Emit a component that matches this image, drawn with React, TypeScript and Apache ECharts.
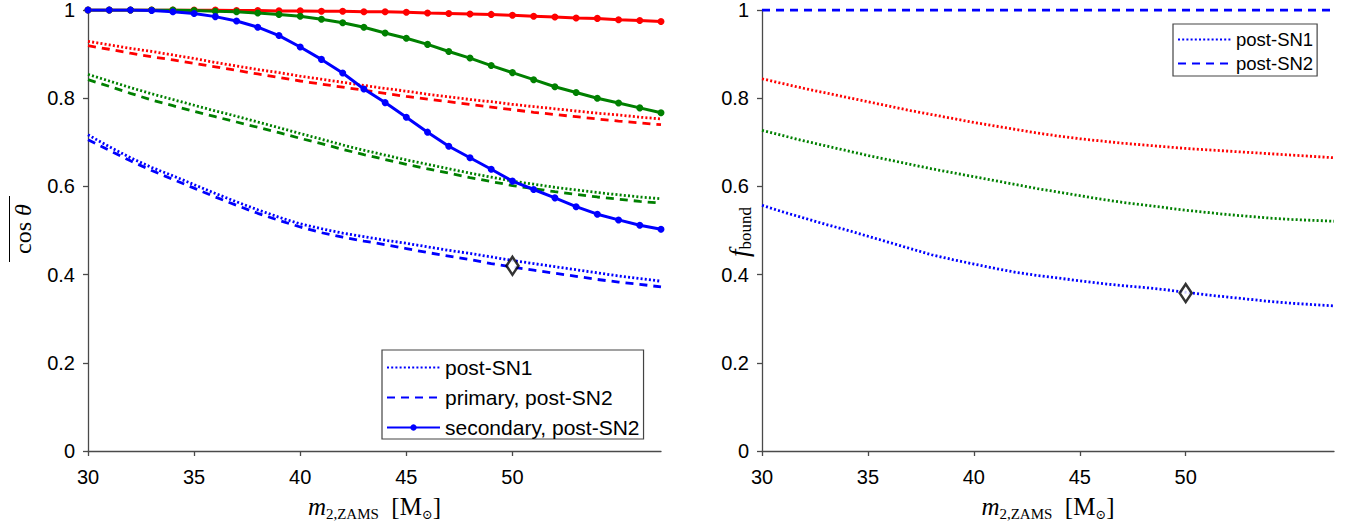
import React, { useEffect, useRef } from 'react';
import * as echarts from 'echarts';

// x values: m_{2,ZAMS} in solar masses
const masses = [30, 31, 32, 33, 34, 35, 36, 37, 38, 39, 40, 41, 42, 43, 44, 45, 46, 47, 48, 49, 50, 51, 52, 53, 54, 55, 56, 57];
const xTicks = [30, 35, 40, 45, 50, 55];

// Left panel: mean cos(theta)
const cosRedSN1 = [0.929, 0.921, 0.913, 0.906, 0.898, 0.890, 0.881, 0.873, 0.865, 0.858, 0.850, 0.843, 0.836, 0.829, 0.822, 0.816, 0.809, 0.803, 0.797, 0.792, 0.786, 0.781, 0.776, 0.771, 0.766, 0.762, 0.757, 0.753];
const cosRedPrimary = [0.919, 0.911, 0.902, 0.894, 0.887, 0.879, 0.871, 0.863, 0.855, 0.847, 0.839, 0.832, 0.825, 0.818, 0.811, 0.804, 0.798, 0.792, 0.786, 0.780, 0.774, 0.768, 0.763, 0.758, 0.753, 0.748, 0.744, 0.740];
const cosRedSecondary = [1.000, 1.000, 1.000, 1.000, 1.000, 1.000, 1.000, 0.999, 0.999, 0.998, 0.998, 0.997, 0.997, 0.996, 0.996, 0.995, 0.993, 0.992, 0.991, 0.990, 0.988, 0.986, 0.984, 0.982, 0.981, 0.978, 0.976, 0.974];

const cosGreenSN1 = [0.854, 0.839, 0.824, 0.810, 0.797, 0.784, 0.771, 0.759, 0.746, 0.733, 0.720, 0.707, 0.694, 0.682, 0.671, 0.660, 0.650, 0.640, 0.630, 0.621, 0.612, 0.605, 0.598, 0.592, 0.586, 0.581, 0.576, 0.572];
const cosGreenPrimary = [0.842, 0.827, 0.811, 0.796, 0.783, 0.770, 0.758, 0.746, 0.734, 0.722, 0.709, 0.697, 0.684, 0.672, 0.661, 0.650, 0.640, 0.630, 0.620, 0.611, 0.602, 0.595, 0.588, 0.582, 0.576, 0.571, 0.566, 0.562];
const cosGreenSecondary = [1.000, 1.000, 1.000, 1.000, 1.000, 0.999, 0.997, 0.996, 0.993, 0.990, 0.986, 0.979, 0.971, 0.961, 0.948, 0.936, 0.922, 0.906, 0.891, 0.874, 0.858, 0.842, 0.826, 0.813, 0.800, 0.789, 0.778, 0.767];

const cosBlueSN1 = [0.717, 0.690, 0.665, 0.643, 0.624, 0.604, 0.584, 0.565, 0.547, 0.530, 0.515, 0.504, 0.494, 0.486, 0.478, 0.471, 0.463, 0.455, 0.448, 0.440, 0.432, 0.425, 0.418, 0.411, 0.404, 0.397, 0.391, 0.385];
const cosBluePrimary = [0.706, 0.682, 0.658, 0.636, 0.616, 0.596, 0.576, 0.557, 0.539, 0.523, 0.508, 0.495, 0.485, 0.476, 0.468, 0.459, 0.450, 0.442, 0.434, 0.425, 0.417, 0.410, 0.403, 0.396, 0.389, 0.383, 0.378, 0.372];
const cosBlueSecondary = [1.000, 1.000, 1.000, 0.999, 0.996, 0.992, 0.985, 0.975, 0.961, 0.942, 0.916, 0.888, 0.857, 0.821, 0.790, 0.757, 0.723, 0.691, 0.665, 0.639, 0.612, 0.593, 0.574, 0.554, 0.537, 0.524, 0.512, 0.503];

// Right panel: bound fraction
const fRedSN1 = [0.844, 0.833, 0.822, 0.812, 0.802, 0.792, 0.782, 0.772, 0.763, 0.754, 0.745, 0.737, 0.729, 0.721, 0.714, 0.708, 0.703, 0.698, 0.694, 0.690, 0.686, 0.683, 0.680, 0.677, 0.674, 0.671, 0.668, 0.665];
const fGreenSN1 = [0.727, 0.715, 0.703, 0.692, 0.681, 0.670, 0.660, 0.650, 0.640, 0.631, 0.622, 0.613, 0.604, 0.595, 0.587, 0.579, 0.571, 0.564, 0.558, 0.552, 0.546, 0.541, 0.536, 0.532, 0.528, 0.525, 0.523, 0.521];
const fBlueSN1 = [0.557, 0.542, 0.528, 0.514, 0.501, 0.487, 0.473, 0.459, 0.445, 0.434, 0.424, 0.414, 0.405, 0.398, 0.392, 0.386, 0.380, 0.375, 0.371, 0.366, 0.360, 0.354, 0.349, 0.344, 0.339, 0.335, 0.332, 0.329];
const fBlueSN2 = [1, 1, 1, 1, 1, 1, 1, 1, 1, 1, 1, 1, 1, 1, 1, 1, 1, 1, 1, 1, 1, 1, 1, 1, 1, 1, 1, 1];

// Highlighted points
const markLeft = [50, 0.42];
const markRight = [50, 0.358];

const yTickLabels = ['0', '0.2', '0.4', '0.6', '0.8', '1'];

const RED = '#ff0000';
const GREEN = '#008000';
const BLUE = '#0000ff';
const SANS = "'Liberation Sans', Arial, Helvetica, sans-serif";
const SERIF = "'Liberation Serif', 'DejaVu Serif', 'Times New Roman', serif";
const AXIS = '#4a4a4a';

const DOT: any = [2, 2.2];
const DASH: any = [8, 6];

function pts(vals: number[]) {
  return masses.map((m, i) => [m, vals[i]]);
}

function lineSeries(name: string, vals: number[], color: string, kind: 'dot' | 'dash' | 'solid', gi: number) {
  const s: any = {
    name,
    type: 'line',
    xAxisIndex: gi,
    yAxisIndex: gi,
    data: pts(vals),
    lineStyle: { color, width: kind === 'solid' ? 3 : 2.8, type: kind === 'dot' ? DOT : kind === 'dash' ? DASH : 'solid' },
    itemStyle: { color },
    emphasis: { disabled: true },
    silent: true,
  };
  if (kind === 'solid') {
    s.symbol = 'circle';
    s.symbolSize = 7;
    s.showSymbol = true;
  } else {
    s.symbol = 'none';
  }
  return s;
}

function xAxis(gi: number) {
  return {
    type: 'value',
    gridIndex: gi,
    min: 30,
    max: 57,
    interval: 5,
    axisLine: { show: true, onZero: false, lineStyle: { color: AXIS, width: 1.3 } },
    axisTick: { show: true, inside: false, length: 5, customValues: xTicks, lineStyle: { color: AXIS, width: 1.3 } },
    axisLabel: { customValues: xTicks, showMaxLabel: false, color: '#000', fontSize: 20, fontFamily: SANS, margin: 16 },
    splitLine: { show: false },
  };
}

function yAxis(gi: number) {
  return {
    type: 'value',
    gridIndex: gi,
    min: 0,
    max: 1,
    interval: 0.2,
    axisLine: { show: true, lineStyle: { color: AXIS, width: 1.3 } },
    axisTick: { show: true, inside: false, length: 5, lineStyle: { color: AXIS, width: 1.3 } },
    axisLabel: {
      color: '#000', fontSize: 20, fontFamily: SANS, margin: 13,
      formatter: (v: number) => yTickLabels[Math.round(v * 5)] ?? String(v),
    },
    splitLine: { show: false },
  };
}

const xNameRich = {
  m: { fontFamily: SERIF, fontStyle: 'italic', fontSize: 25, color: '#000', lineHeight: 30 },
  s: { fontFamily: SERIF, fontSize: 15, color: '#000', verticalAlign: 'bottom', lineHeight: 20 },
  n: { fontFamily: SERIF, fontSize: 25, color: '#000', lineHeight: 30 },
  o: { fontFamily: "'DejaVu Serif', serif", fontSize: 13, color: '#000', verticalAlign: 'bottom', lineHeight: 20 },
};
const xNameText = '{m|m}{s|2,ZAMS}{n|  [M}{o|\u2299}{n|]}';

const hiddenSymbol = { color: 'rgba(0,0,0,0)', borderColor: 'rgba(0,0,0,0)', borderWidth: 0, opacity: 0 };

export default function App() {
  const ref = useRef<HTMLDivElement>(null);
  useEffect(() => {
    if (!ref.current) return;
    const chart = echarts.init(ref.current, null, { renderer: 'svg' });
    const option: any = {
      animation: false,
      backgroundColor: '#ffffff',
      grid: [
        { left: 88, top: 9.5, width: 573, height: 441.5, containLabel: false },
        { left: 762, top: 9.5, width: 572, height: 441.5, containLabel: false },
      ],
      xAxis: [xAxis(0), xAxis(1)],
      yAxis: [yAxis(0), yAxis(1)],
      legend: [
        {
          data: [
            { name: 'post-SN1', itemStyle: hiddenSymbol },
            { name: 'primary, post-SN2', itemStyle: hiddenSymbol },
            { name: 'secondary, post-SN2' },
          ],
          orient: 'vertical',
          left: 382,
          top: 350,
          itemWidth: 53,
          itemHeight: 8,
          itemGap: 9,
          padding: [7, 4, 1, 4],
          borderColor: '#444',
          borderWidth: 1.2,
          borderRadius: 0,
          backgroundColor: '#fff',
          selectedMode: false,
          textStyle: { fontFamily: SANS, fontSize: 21, color: '#000' },
        },
        {
          data: [
            { name: 'post-SN1', itemStyle: hiddenSymbol },
            { name: 'post-SN2', itemStyle: hiddenSymbol },
          ],
          orient: 'vertical',
          left: 1173,
          top: 24,
          itemWidth: 53,
          itemHeight: 8,
          itemGap: 5,
          padding: [6, 4, 3, 4],
          borderColor: '#444',
          borderWidth: 1.2,
          borderRadius: 0,
          backgroundColor: '#fff',
          selectedMode: false,
          textStyle: { fontFamily: SANS, fontSize: 18.5, color: '#000' },
        },
      ],
      series: [
        lineSeries('red-sn1-l', cosRedSN1, RED, 'dot', 0),
        lineSeries('red-pri-l', cosRedPrimary, RED, 'dash', 0),
        lineSeries('red-sec-l', cosRedSecondary, RED, 'solid', 0),
        lineSeries('green-sn1-l', cosGreenSN1, GREEN, 'dot', 0),
        lineSeries('green-pri-l', cosGreenPrimary, GREEN, 'dash', 0),
        lineSeries('green-sec-l', cosGreenSecondary, GREEN, 'solid', 0),
        lineSeries('post-SN1', cosBlueSN1, BLUE, 'dot', 0),
        lineSeries('primary, post-SN2', cosBluePrimary, BLUE, 'dash', 0),
        lineSeries('secondary, post-SN2', cosBlueSecondary, BLUE, 'solid', 0),
        lineSeries('red-sn1-r', fRedSN1, RED, 'dot', 1),
        lineSeries('green-sn1-r', fGreenSN1, GREEN, 'dot', 1),
        lineSeries('post-SN1', fBlueSN1, BLUE, 'dot', 1),
        lineSeries('post-SN2', fBlueSN2, BLUE, 'dash', 1),
        {
          name: 'mark-l', type: 'scatter', xAxisIndex: 0, yAxisIndex: 0, data: [markLeft],
          symbol: 'diamond', symbolSize: [12, 18], z: 5, silent: true,
          itemStyle: { color: '#fff', borderColor: '#000', borderWidth: 2.6 },
        },
        {
          name: 'mark-r', type: 'scatter', xAxisIndex: 1, yAxisIndex: 1, data: [markRight],
          symbol: 'diamond', symbolSize: [12, 18], z: 5, silent: true,
          itemStyle: { color: '#fff', borderColor: '#000', borderWidth: 2.6 },
        },
      ],
      graphic: [
        {
          type: 'text', x: 374.5, y: 506, silent: true,
          style: { text: xNameText, rich: xNameRich, align: 'center', verticalAlign: 'middle' },
        },
        {
          type: 'text', x: 1048, y: 506, silent: true,
          style: { text: xNameText, rich: xNameRich, align: 'center', verticalAlign: 'middle' },
        },
        {
          type: 'text', x: 23, y: 229, rotation: Math.PI / 2, silent: true,
          style: {
            text: '{a|cos}{a| }{b|\u03b8}',
            rich: {
              a: { fontFamily: SERIF, fontSize: 24, color: '#000' },
              b: { fontFamily: SERIF, fontStyle: 'italic', fontSize: 24, color: '#000' },
            },
            align: 'center', verticalAlign: 'middle',
          },
        },
        {
          type: 'line', silent: true,
          shape: { x1: 9.5, y1: 196, x2: 9.5, y2: 262 },
          style: { stroke: '#000', lineWidth: 1 },
        },
        {
          type: 'text', x: 739, y: 232, rotation: Math.PI / 2, silent: true,
          style: {
            text: '{f|f}{s|bound}',
            rich: {
              f: { fontFamily: SERIF, fontStyle: 'italic', fontSize: 27, color: '#000', lineHeight: 30 },
              s: { fontFamily: SERIF, fontSize: 17, color: '#000', verticalAlign: 'bottom', lineHeight: 20 },
            },
            align: 'center', verticalAlign: 'middle',
          },
        },
      ],
    };
    chart.setOption(option);
    return () => chart.dispose();
  }, []);
  return <div ref={ref} style={{ position: 'fixed', left: 0, top: 0, width: 1347, height: 529, background: '#fff' }} />;
}
